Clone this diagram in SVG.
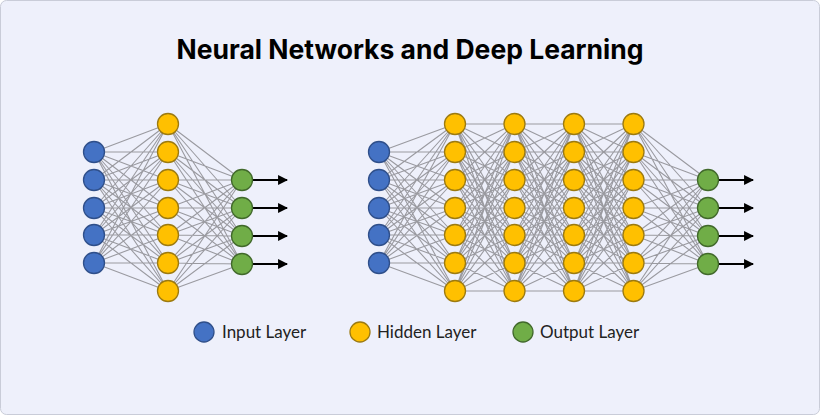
<svg xmlns="http://www.w3.org/2000/svg" xmlns:xlink="http://www.w3.org/1999/xlink" width="820" height="415" viewBox="0 0 820 415">
<style>
.e{fill:none;stroke:#9a9aa0;stroke-width:1.1}
.in{fill:#4472c4;stroke:#2f4f8a;stroke-width:1.3}
.hd{fill:#ffc000;stroke:#9c7a10;stroke-width:1.3}
.ou{fill:#70ad47;stroke:#41692b;stroke-width:1.3}
.ar{stroke:#000;stroke-width:2.2}
.lg{font-family:Lato,"Open Sans",sans-serif;font-size:17px;fill:#222}
</style>
<defs>
<marker id="ah" viewBox="0 0 10 10" refX="9" refY="5" markerWidth="4.5" markerHeight="4.5" orient="auto"><path d="M0 0L10 5L0 10z" fill="#000"/></marker>
<path id="p57" class="e" vector-effect="non-scaling-stroke" d="M0 152L1 124M0 152L1 152M0 152L1 180M0 152L1 208M0 152L1 235M0 152L1 263M0 152L1 291M0 180L1 124M0 180L1 152M0 180L1 180M0 180L1 208M0 180L1 235M0 180L1 263M0 180L1 291M0 208L1 124M0 208L1 152M0 208L1 180M0 208L1 208M0 208L1 235M0 208L1 263M0 208L1 291M0 235L1 124M0 235L1 152M0 235L1 180M0 235L1 208M0 235L1 235M0 235L1 263M0 235L1 291M0 263L1 124M0 263L1 152M0 263L1 180M0 263L1 208M0 263L1 235M0 263L1 263M0 263L1 291"/>
<path id="p77" class="e" vector-effect="non-scaling-stroke" d="M0 124L1 124M0 124L1 152M0 124L1 180M0 124L1 208M0 124L1 235M0 124L1 263M0 124L1 291M0 152L1 124M0 152L1 152M0 152L1 180M0 152L1 208M0 152L1 235M0 152L1 263M0 152L1 291M0 180L1 124M0 180L1 152M0 180L1 180M0 180L1 208M0 180L1 235M0 180L1 263M0 180L1 291M0 208L1 124M0 208L1 152M0 208L1 180M0 208L1 208M0 208L1 235M0 208L1 263M0 208L1 291M0 235L1 124M0 235L1 152M0 235L1 180M0 235L1 208M0 235L1 235M0 235L1 263M0 235L1 291M0 263L1 124M0 263L1 152M0 263L1 180M0 263L1 208M0 263L1 235M0 263L1 263M0 263L1 291M0 291L1 124M0 291L1 152M0 291L1 180M0 291L1 208M0 291L1 235M0 291L1 263M0 291L1 291"/>
<path id="p74" class="e" vector-effect="non-scaling-stroke" d="M0 124L1 180M0 124L1 208M0 124L1 236M0 124L1 264M0 152L1 180M0 152L1 208M0 152L1 236M0 152L1 264M0 180L1 180M0 180L1 208M0 180L1 236M0 180L1 264M0 208L1 180M0 208L1 208M0 208L1 236M0 208L1 264M0 235L1 180M0 235L1 208M0 235L1 236M0 235L1 264M0 263L1 180M0 263L1 208M0 263L1 236M0 263L1 264M0 291L1 180M0 291L1 208M0 291L1 236M0 291L1 264"/>
<g id="c5"><circle cy="152" r="10.5"/><circle cy="180" r="10.5"/><circle cy="208" r="10.5"/><circle cy="235" r="10.5"/><circle cy="263" r="10.5"/></g>
<g id="c7"><circle cy="124" r="10.5"/><circle cy="152" r="10.5"/><circle cy="180" r="10.5"/><circle cy="208" r="10.5"/><circle cy="235" r="10.5"/><circle cy="263" r="10.5"/><circle cy="291" r="10.5"/></g>
<g id="c4"><circle cy="180" r="10.5"/><circle cy="208" r="10.5"/><circle cy="236" r="10.5"/><circle cy="264" r="10.5"/></g>
<g id="a4" class="ar"><line x1="252" y1="180" x2="287" y2="180" marker-end="url(#ah)"/><line x1="252" y1="208" x2="287" y2="208" marker-end="url(#ah)"/><line x1="252" y1="236" x2="287" y2="236" marker-end="url(#ah)"/><line x1="252" y1="264" x2="287" y2="264" marker-end="url(#ah)"/></g>
</defs>
<rect x="0.5" y="0.5" width="819" height="414" rx="6" fill="#eef0fb" stroke="#c9ccd8"/>
<text x="410" y="59" text-anchor="middle" font-family="Inter,'Open Sans',sans-serif" font-weight="700" font-size="26.5" fill="#000">Neural Networks and Deep Learning</text>
<g id="connectors">
<use xlink:href="#p57" transform="translate(94 0) scale(74 1)"/>
<use xlink:href="#p74" transform="translate(168 0) scale(74 1)"/>
<use xlink:href="#a4"/>
<use xlink:href="#p57" transform="translate(379 0) scale(76 1)"/>
<use xlink:href="#p77" transform="translate(455 0) scale(59.5 1)"/>
<use xlink:href="#p77" transform="translate(514.5 0) scale(59.5 1)"/>
<use xlink:href="#p77" transform="translate(574 0) scale(59.5 1)"/>
<use xlink:href="#p74" transform="translate(633.5 0) scale(74.5 1)"/>
<use xlink:href="#a4" transform="translate(466 0)"/>
</g>
<g id="left-input" class="in"><use xlink:href="#c5" x="94"/></g>
<g id="left-hidden" class="hd"><use xlink:href="#c7" x="168"/></g>
<g id="left-output" class="ou"><use xlink:href="#c4" x="242"/></g>
<g id="right-input" class="in"><use xlink:href="#c5" x="379"/></g>
<g id="right-hidden1" class="hd"><use xlink:href="#c7" x="455"/></g>
<g id="right-hidden2" class="hd"><use xlink:href="#c7" x="514.5"/></g>
<g id="right-hidden3" class="hd"><use xlink:href="#c7" x="574"/></g>
<g id="right-hidden4" class="hd"><use xlink:href="#c7" x="633.5"/></g>
<g id="right-output" class="ou"><use xlink:href="#c4" x="708"/></g>
<g id="legend">
<circle class="in" cx="204" cy="332" r="10"/><text class="lg" x="222" y="338">Input Layer</text>
<circle class="hd" cx="360" cy="332" r="10"/><text class="lg" x="377" y="338">Hidden Layer</text>
<circle class="ou" cx="523" cy="332" r="10"/><text class="lg" x="540" y="338">Output Layer</text>
</g>
</svg>
